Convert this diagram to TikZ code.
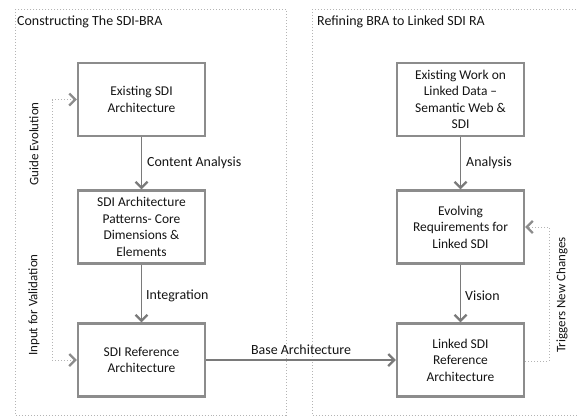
\documentclass[tikz,border=0pt]{standalone}
\usepackage{fontspec}
\setmainfont{Carlito}
\usetikzlibrary{arrows.meta}
\definecolor{boxgray}{HTML}{8C8C8C}
\definecolor{arrgray}{HTML}{7A7A7A}
\definecolor{dotgray}{HTML}{B4B4B4}
\definecolor{txt}{HTML}{141414}
\tikzset{
  stepbox/.style={draw=boxgray, line width=2.4bp, minimum width=127bp, minimum height=73bp,
     align=center, text=txt, font=\fontsize{13.5}{16.5}\selectfont, inner sep=2bp},
  flow/.style={draw=arrgray, line width=1.4bp, -{Straight Barb[length=6bp,width=12bp,line width=2.2bp]}},
  fb/.style={draw=dotgray, line width=1bp, dotted, -{Straight Barb[length=6bp,width=12bp,line width=2.2bp,color=boxgray]}},
  lbl/.style={text=txt, font=\fontsize{14}{16}\selectfont, inner sep=0pt},
  rlbl/.style={text=txt, font=\fontsize{13}{16}\selectfont, inner sep=0pt, rotate=90},
  panel/.style={draw=dotgray, line width=1bp, dotted},
}
\begin{document}
\begin{tikzpicture}[x=1bp,y=-1bp]
\useasboundingbox (0,0) rectangle (577,417);
\draw[panel] (15,9) rectangle (286,415);
\draw[panel] (312,9) -- (580,9);
\draw[panel] (312,9) -- (312,415) -- (580,415);
\node[lbl, anchor=west] (t1) at (17,22) {Constructing The SDI-BRA};
\node[lbl, anchor=west] (t2) at (317,22) {Refining BRA to Linked SDI RA};

\node[stepbox] (b1) at (141.5,99.5) {Existing SDI\\Architecture};
\node[stepbox] (b2) at (141.5,227) {SDI Architecture\\Patterns- Core\\Dimensions \&\\Elements};
\node[stepbox] (b3) at (141.5,360) {SDI Reference\\Architecture};
\node[stepbox] (r1) at (460.5,99.5) {Existing Work on\\Linked Data --\\Semantic Web \&\\SDI};
\node[stepbox] (r2) at (460.5,227) {Evolving\\Requirements for\\Linked SDI};
\node[stepbox] (r3) at (460.5,360) {Linked SDI\\Reference\\Architecture};

\draw[flow] (b1) -- (b2) node[lbl, midway, anchor=west, xshift=5bp] (l1) {Content Analysis};
\draw[flow] (b2) -- (b3) node[lbl, midway, anchor=west, xshift=4bp, yshift=-2bp] (l2) {Integration};
\draw[flow] (r1) -- (r2) node[lbl, midway, anchor=west, xshift=5bp] (l3) {Analysis};
\draw[flow] (r2) -- (r3) node[lbl, midway, anchor=west, xshift=4bp, yshift=-2bp] (l4) {Vision};
\draw[flow] (b3) -- (r3) node[lbl, midway, above=5bp] (l5) {Base Architecture};

\coordinate (g1) at (52,99.5);
\coordinate (g2) at (52,360);
\draw[fb] (g1) -- (b1.west);
\draw[fb] (g1) -- (g2) -- (b3.west);
\node[rlbl] (ge) at (34,144) {Guide Evolution};
\node[rlbl] (iv) at (34,305) {Input for Validation};

\coordinate (h1) at (549,361);
\coordinate (h2) at (549,227);
\draw[fb] (r3.east |- h1) -- (h1) -- (h2) -- (r2.east);
\node[rlbl] (tn) at (562,295) {Triggers New Changes};
\end{tikzpicture}
\end{document}
